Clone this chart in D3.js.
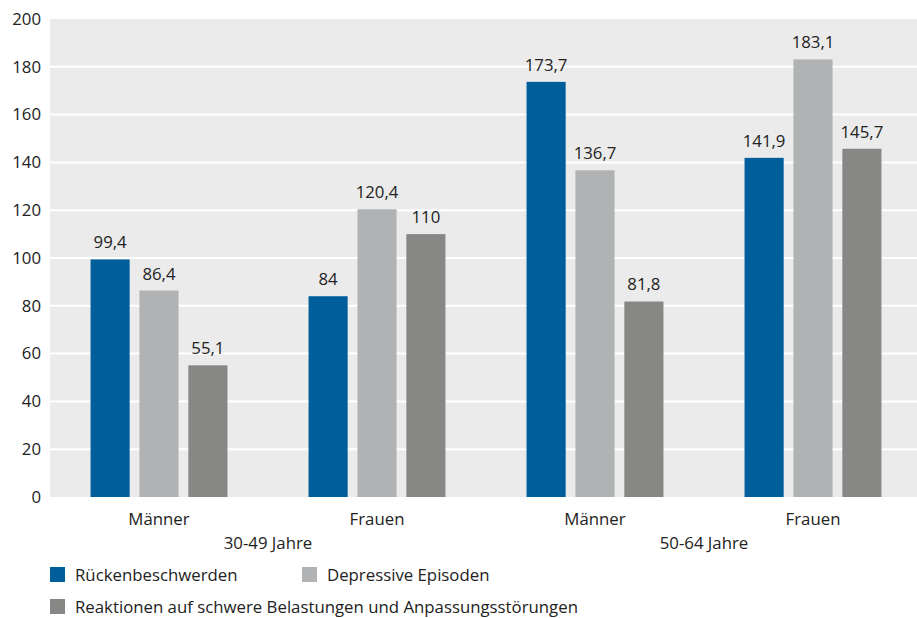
<!DOCTYPE html>
<html><head><meta charset="utf-8">
<script src="https://cdn.jsdelivr.net/npm/d3@7"></script>
<style>body{margin:0;background:#fff;} text{font-family:"Open Sans","Noto Sans",sans-serif;}</style>
</head><body>
<svg id="c" width="917" height="618"></svg>
<script>
const categories = ["Männer","Frauen","Männer","Frauen"];
const ageGroups = ["30-49 Jahre","50-64 Jahre"];
const seriesNames = ["Rückenbeschwerden","Depressive Episoden","Reaktionen auf schwere Belastungen und Anpassungsstörungen"];
const ruecken = [99.4, 84, 173.7, 141.9];
const depressiv = [86.4, 120.4, 136.7, 183.1];
const reaktionen = [55.1, 110, 81.8, 145.7];
const yTicks = [0,20,40,60,80,100,120,140,160,180,200];
const colors = ["#005f9b","#b1b2b3","#878786"];

(function(){
const svg = d3.select("#c");
const fs = 16.8;
const mLeft = 50, mRight = 922, mTop = 19, mBottom = 497;
const x0 = d3.scaleBand().domain(d3.range(categories.length)).range([mLeft, mRight]).paddingInner(0.372).paddingOuter(0.186);
const x1 = d3.scaleBand().domain(d3.range(3)).range([0, x0.bandwidth()]).paddingInner(0.2);
const y = d3.scaleLinear().domain([0,200]).range([mBottom, mTop]);

svg.append("rect").attr("x",mLeft).attr("y",mTop).attr("width",917-mLeft).attr("height",mBottom-mTop).attr("fill","#ebebeb");
svg.append("g").selectAll("line").data(yTicks.filter(d=>d>0&&d<200)).join("line")
  .attr("x1",mLeft).attr("x2",917).attr("y1",d=>y(d)).attr("y2",d=>y(d))
  .attr("stroke","#fff").attr("stroke-width",2);

const yAxis = svg.append("g").attr("transform",`translate(${mLeft},0)`)
  .call(d3.axisLeft(y).tickValues(yTicks).tickSize(0).tickPadding(9));
yAxis.select(".domain").remove();
yAxis.selectAll("text").attr("font-size",fs).attr("fill","#222").attr("font-family","Open Sans, Noto Sans, sans-serif");

const series = [ruecken, depressiv, reaktionen];
const fmt = v => String(v).replace(".", ",");
series.forEach((vals, si) => {
  const g = svg.append("g");
  g.selectAll("rect").data(vals).join("rect")
    .attr("x",(d,i)=>x0(i)+x1(si)).attr("width",x1.bandwidth())
    .attr("y",d=>y(d)).attr("height",d=>mBottom-y(d)).attr("fill",colors[si]);
  g.selectAll("text").data(vals).join("text")
    .attr("x",(d,i)=>x0(i)+x1(si)+x1.bandwidth()/2).attr("y",d=>y(d)-11)
    .attr("text-anchor","middle").attr("font-size",fs).attr("fill","#222").text(fmt);
});

const xAxis = svg.append("g").attr("transform",`translate(0,${mBottom})`)
  .call(d3.axisBottom(x0).tickSize(0).tickPadding(16).tickFormat(i=>categories[i]));
xAxis.select(".domain").remove();
xAxis.selectAll("text").attr("font-size",fs).attr("fill","#222").attr("font-family","Open Sans, Noto Sans, sans-serif");

ageGroups.forEach((a, k) => {
  const cx = (x0(2*k) + x0(2*k+1) + x0.bandwidth())/2;
  svg.append("text").attr("x",cx).attr("y",549).attr("text-anchor","middle")
    .attr("font-size",fs).attr("fill","#222").text(a);
});

const legPos = [[50,567],[302,567],[50,599]];
seriesNames.forEach((n,i)=>{
  const [lx,ly] = legPos[i];
  svg.append("rect").attr("x",lx).attr("y",ly).attr("width",15).attr("height",15).attr("fill",colors[i]);
  svg.append("text").attr("x",lx+25).attr("y",ly+14).attr("font-size",fs).attr("fill","#222").text(n);
});
})();
</script>
</body></html>
